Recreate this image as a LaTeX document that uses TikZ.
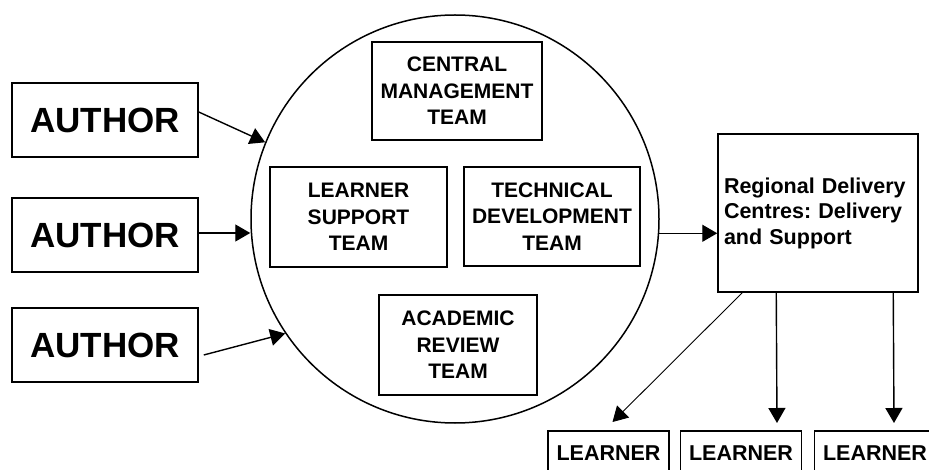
\documentclass[tikz,border=0pt]{standalone}
\usepackage{fontspec}
\setmainfont{Liberation Sans}
\usetikzlibrary{arrows.meta,calc}
\begin{document}
\frenchspacing
\begin{tikzpicture}[x=1pt,y=-1pt,
  box/.style={draw,line width=1.5pt,rectangle,inner sep=0pt,font=\bfseries},
  team/.style={box,align=center,font=\fontsize{21}{26.5}\selectfont\bfseries},
  author/.style={box,minimum width=186pt,minimum height=74pt,font=\fontsize{35}{40}\selectfont\bfseries},
  learner/.style={box,minimum width=121pt,minimum height=44pt,anchor=north,font=\fontsize{21.5}{24}\selectfont\bfseries},
  arr/.style={line width=1.4pt,-{Triangle[length=15pt,width=17pt]}},
  thinarr/.style={line width=0.9pt,-{Triangle[length=15pt,width=17pt]}}]
\useasboundingbox (0,0) rectangle (929,470);
\clip (0,0) rectangle (929,470);
\node[draw,circle,line width=1.5pt,minimum size=408pt,inner sep=0pt] (C) at (455,219) {};
\node[team,minimum width=170pt,minimum height=98pt] (CMT) at (457,91) {CENTRAL\\MANAGEMENT\\TEAM};
\node[team,minimum width=177pt,minimum height=100pt] (LST) at (358.5,217) {LEARNER\\SUPPORT\\TEAM};
\node[team,minimum width=176pt,minimum height=99pt] (TDT) at (552,216.5) {TECHNICAL\\DEVELOPMENT\\TEAM};
\node[team,minimum width=158pt,minimum height=100pt] (ART) at (458,345) {ACADEMIC\\REVIEW\\TEAM};
\node[author] (A1) at (105,120) {AUTHOR};
\node[author] (A2) at (105,235) {AUTHOR};
\node[author] (A3) at (105,345) {AUTHOR};
\node[box,minimum width=200pt,minimum height=158pt,text width=188pt,align=left,
  font=\fontsize{21.5}{25.5}\selectfont\bfseries] (RDC) at (818,213) {Regional Delivery\\Centres: Delivery\\and Support};
\node[learner] (L1) at (608.5,430) {LEARNER};
\node[learner] (L2) at (741,430) {LEARNER};
\node[learner] (L3) at (875,430) {LEARNER};
\coordinate (a1s) at ($(A1.east)+(0,-8)$);
\coordinate (a2s) at ($(A2.east)+(0,-2)$);
\coordinate (a3s) at ($(A3.east)+(5,10)$);
\coordinate (cr) at (C.-4);
\draw[arr] (a1s) -- (C.158);
\draw[arr] (a2s) -- (a2s -| C.west);
\draw[arr] (a3s) -- (C.214);
\draw[arr] (cr) -- (cr -| RDC.west);
\draw[thinarr] ($(RDC.south west)+(25,0)$) -- ($(L1.north)+(4,-8)$);
\draw[arr] ($(RDC.south west)+(59,0)$) -- ($(L2.north)+(36,-7)$);
\draw[arr] ($(RDC.south west)+(176,0)$) -- ($(L3.north)+(19,-7)$);
\end{tikzpicture}
\end{document}
